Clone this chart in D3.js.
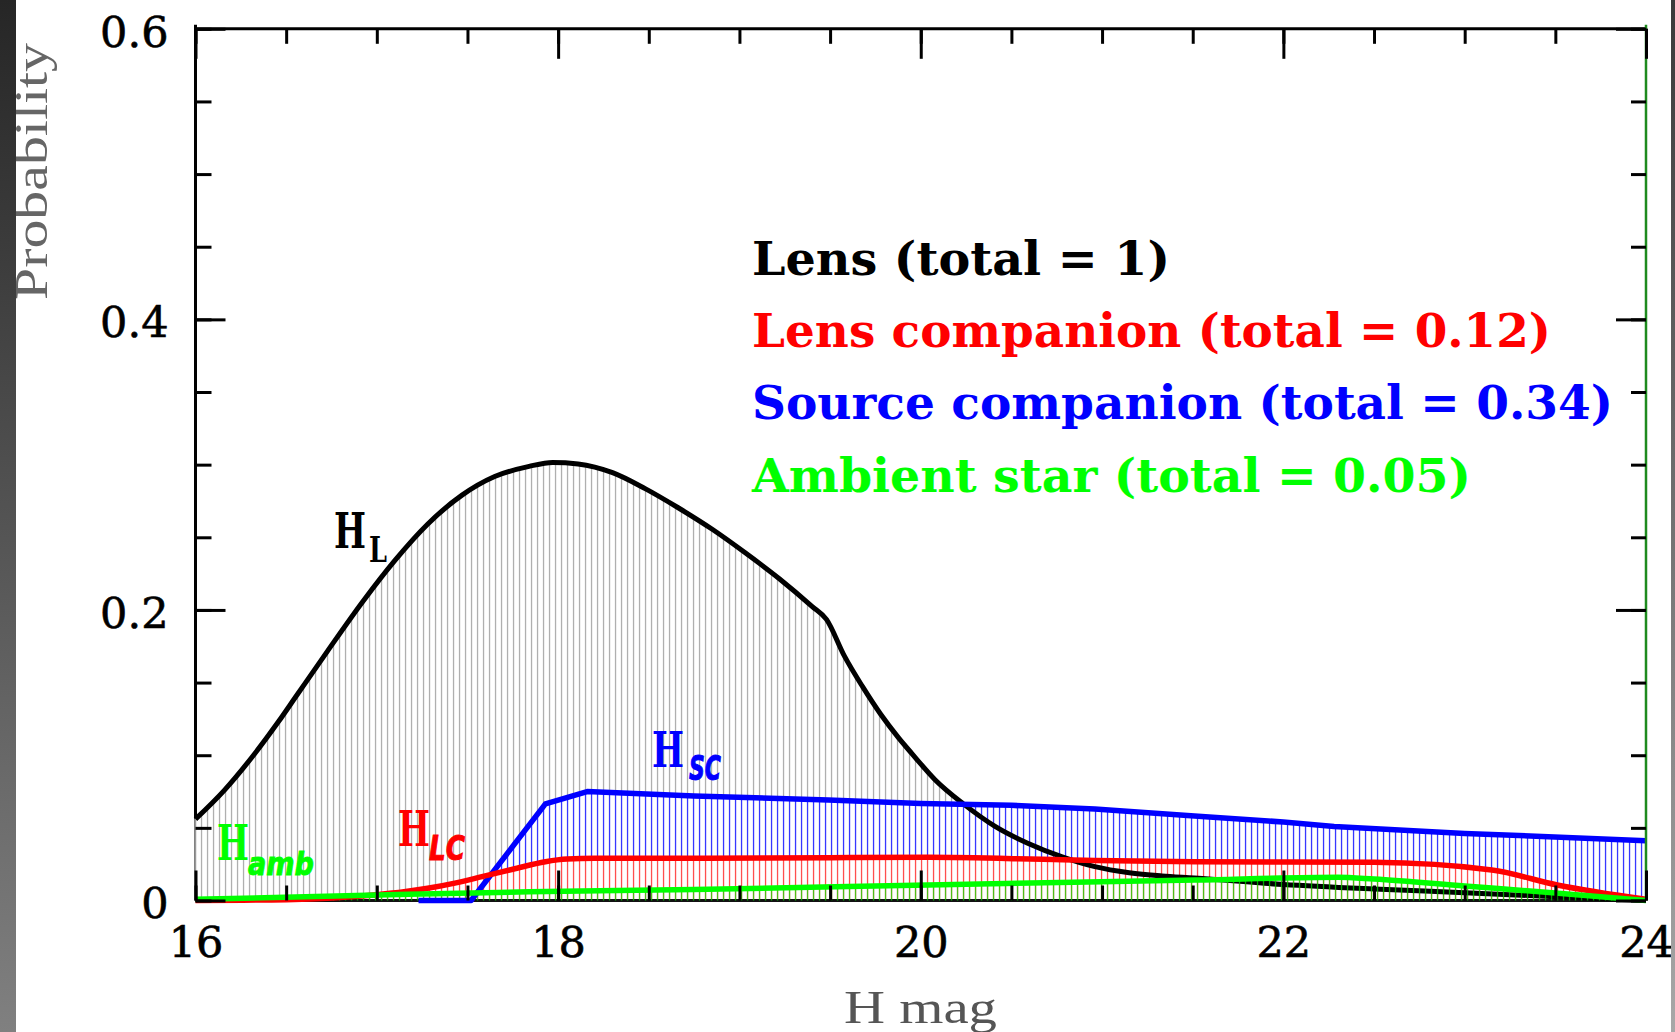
<!DOCTYPE html>
<html><head><meta charset="utf-8">
<script src="https://cdn.jsdelivr.net/npm/d3@7"></script>
<style>html,body{margin:0;padding:0;background:#fff;overflow:hidden}</style>
</head><body>
<svg id="c" width="1675" height="1032"></svg>
<script>
// ---------- data ----------
const lensMag  = [16.0,16.16,16.32,16.46,16.55,16.73,16.92,17.10,17.28,17.47,17.65,17.84,17.97,18.11,18.30,18.48,18.66,18.85,19.03,19.22,19.40,19.48,19.58,19.68,19.78,19.88,19.95,20.08,20.23,20.41,20.59,20.78,20.96,21.15,21.33,21.51,22.0,22.5,23.0,23.5,24.0];
const lensProb = [0.056,0.076,0.100,0.1235,0.1397,0.172,0.2053,0.2341,0.259,0.279,0.2918,0.2988,0.3015,0.3005,0.2945,0.2835,0.2705,0.2555,0.2395,0.2215,0.2025,0.1935,0.168,0.147,0.128,0.1116,0.1013,0.083,0.067,0.051,0.0394,0.030,0.0233,0.0191,0.0169,0.0155,0.0110,0.0079,0.0054,0.0026,0.0];

const lensCompMag  = [16.0,16.5,17.0,17.15,17.28,17.43,17.58,17.75,17.93,18.05,18.2,18.75,19.5,20.04,20.78,21.51,22.5,23.15,23.51,24.0];
const lensCompProb = [0.0,0.0006,0.004,0.006,0.0084,0.012,0.0164,0.0215,0.0267,0.0285,0.029,0.029,0.0295,0.0297,0.028,0.0267,0.0263,0.021,0.0107,0.0008];

const srcCompMag  = [17.23,17.52,17.93,18.16,18.75,19.49,20.0,20.5,20.96,21.51,22.0,22.28,23.0,24.0];
const srcCompProb = [0.0,0.0,0.0665,0.0750,0.0719,0.0692,0.0668,0.0655,0.0630,0.0582,0.0540,0.0510,0.0462,0.0412];

const ambMag  = [16.0,17.0,17.84,18.75,20.04,21.51,22.3,22.5,23.0,23.5,24.0];
const ambProb = [0.0008,0.0038,0.006,0.0075,0.0107,0.0141,0.0160,0.0148,0.0100,0.0052,0.0];

const xTickLabels = ["16","18","20","22","24"];
const xTickValues = [16,18,20,22,24];
const yTickLabels = ["0","0.2","0.4","0.6"];
const yTickValues = [0,0.2,0.4,0.6];

const legendLabels = ["Lens (total = 1)","Lens companion (total = 0.12)","Source companion (total = 0.34)","Ambient star (total = 0.05)"];
const legendColors = ["#000000","#ff0000","#0000ff","#00ff00"];

// ---------- layout ----------
const svg = d3.select("#c");
const W = 1675, H = 1032;
const L = 195.5, R = 1646, T = 28.8, B = 900.5;
const x = d3.scaleLinear().domain([16,24]).range([L,R]);
const y = d3.scaleLinear().domain([0,0.6]).range([B,T]);

const defs = svg.append("defs");
const lg = defs.append("linearGradient").attr("id","bandL").attr("x1",0).attr("y1",0).attr("x2",0).attr("y2",1);
lg.append("stop").attr("offset","0").attr("stop-color","#262626");
lg.append("stop").attr("offset","1").attr("stop-color","#808080");
const rg = defs.append("linearGradient").attr("id","bandR").attr("x1",0).attr("y1",0).attr("x2",0).attr("y2",1);
rg.append("stop").attr("offset","0").attr("stop-color","#3a3a3a");
rg.append("stop").attr("offset","1").attr("stop-color","#a8a8a8");

function hatch(id, color, op){
  const p = defs.append("pattern").attr("id",id).attr("patternUnits","userSpaceOnUse")
    .attr("x",L-0.6).attr("y",0).attr("width",6).attr("height",20);
  p.append("rect").attr("x",0).attr("y",0).attr("width",1.2).attr("height",20)
    .attr("fill",color).attr("fill-opacity",op);
}
hatch("hGray","#a8a8a8",1);
hatch("hBlue","#0000ff",0.85);
hatch("hRed","#ff0000",0.75);
hatch("hGreen","#00ee00",0.75);

svg.append("rect").attr("width",W).attr("height",H).attr("fill","#fff");

const zip = (a,b)=>a.map((v,i)=>[v,b[i]]);
const lensData = zip(lensMag,lensProb);
const lcData = zip(lensCompMag,lensCompProb);
const scData = zip(srcCompMag,srcCompProb);
const ambData = zip(ambMag,ambProb);

const areaSmooth = d3.area().x(d=>x(d[0])).y0(y(0)).y1(d=>y(d[1])).curve(d3.curveMonotoneX);
const areaLinear = d3.area().x(d=>x(d[0])).y0(y(0)).y1(d=>y(d[1])).curve(d3.curveLinear);
const lineSmooth = d3.line().x(d=>x(d[0])).y(d=>y(d[1])).curve(d3.curveMonotoneX);
const lineLinear = d3.line().x(d=>x(d[0])).y(d=>y(d[1])).curve(d3.curveLinear);

// frame: left, top
svg.append("line").attr("x1",L).attr("x2",L).attr("y1",T-4).attr("y2",B).attr("stroke","#000").attr("stroke-width",3);
svg.append("line").attr("x1",L).attr("x2",R).attr("y1",T).attr("y2",T).attr("stroke","#000").attr("stroke-width",3);

// areas
svg.append("path").attr("d",areaSmooth(lensData)).attr("fill","#fff").attr("stroke","#fff").attr("stroke-width",2);
svg.append("path").attr("d",areaSmooth(lensData)).attr("fill","url(#hGray)");
svg.append("path").attr("d",areaLinear(scData)).attr("fill","#fff");
svg.append("path").attr("d",areaLinear(scData)).attr("fill","url(#hBlue)");
svg.append("path").attr("d",areaSmooth(lcData)).attr("fill","#fff");
svg.append("path").attr("d",areaSmooth(lcData)).attr("fill","url(#hRed)");

// bottom axis line
svg.append("line").attr("x1",L).attr("x2",R).attr("y1",B).attr("y2",B).attr("stroke","#111").attr("stroke-width",3);
// thin grey edge where the hatched lens area meets the left frame
svg.append("line").attr("x1",L).attr("x2",L).attr("y1",y(lensProb[0])).attr("y2",B).attr("stroke","#999").attr("stroke-width",1.2);

// black curve
svg.append("path").attr("d",lineSmooth(lensData)).attr("fill","none").attr("stroke","#000").attr("stroke-width",5).attr("stroke-linejoin","round");

// green hatch (no white fill, so it breaks the black line/base)
svg.append("path").attr("d",areaSmooth(ambData)).attr("fill","url(#hGreen)");

// colored curves
svg.append("path").attr("d",lineLinear(scData)).attr("fill","none").attr("stroke","#0000ff").attr("stroke-width",5.5).attr("stroke-linejoin","round");
svg.append("path").attr("d",lineSmooth(lcData)).attr("fill","none").attr("stroke","#ff0000").attr("stroke-width",5.5).attr("stroke-linejoin","round");
svg.append("path").attr("d",lineSmooth(ambData)).attr("fill","none").attr("stroke","#00ff00").attr("stroke-width",5.5).attr("stroke-linejoin","round");

// right frame (green)
svg.append("line").attr("x1",R).attr("x2",R).attr("y1",T-4).attr("y2",B).attr("stroke","#1e8a1e").attr("stroke-width",2.5);

// ---------- axes ----------
function styleAxis(g){
  g.select(".domain").remove();
  g.selectAll(".tick line").attr("stroke","#000").attr("stroke-width",3);
}
const tickFont = "'DejaVu Serif', serif";
svg.append("g").attr("transform",`translate(0,${B})`)
  .call(d3.axisBottom(x).tickValues(x.ticks(16)).tickSize(-15).tickFormat("")).call(styleAxis);
svg.append("g").attr("transform",`translate(0,${B})`)
  .call(d3.axisBottom(x).tickValues(xTickValues).tickSize(-30).tickPadding(26).tickFormat((d,i)=>xTickLabels[i]))
  .call(styleAxis)
  .call(g=>g.selectAll("text").attr("font-family",tickFont).attr("font-size",43).attr("fill","#000").attr("stroke","#000").attr("stroke-width",0.6));
svg.append("g").attr("transform",`translate(0,${T})`)
  .call(d3.axisTop(x).tickValues(x.ticks(16)).tickSize(-15).tickFormat("")).call(styleAxis);
svg.append("g").attr("transform",`translate(0,${T})`)
  .call(d3.axisTop(x).tickValues(xTickValues).tickSize(-30).tickFormat("")).call(styleAxis);
svg.append("g").attr("transform",`translate(${L},0)`)
  .call(d3.axisLeft(y).tickValues(y.ticks(12)).tickSize(-16).tickFormat("")).call(styleAxis);
svg.append("g").attr("transform",`translate(${L},0)`)
  .call(d3.axisLeft(y).tickValues(yTickValues).tickSize(-30).tickPadding(27).tickFormat((d,i)=>yTickLabels[i]))
  .call(styleAxis)
  .call(g=>g.selectAll("text").attr("font-family",tickFont).attr("font-size",43).attr("fill","#000").attr("stroke","#000").attr("stroke-width",0.6).attr("dy","0.4em"));
svg.append("g").attr("transform",`translate(${R},0)`)
  .call(d3.axisRight(y).tickValues(y.ticks(12)).tickSize(-15).tickFormat("")).call(styleAxis);
svg.append("g").attr("transform",`translate(${R},0)`)
  .call(d3.axisRight(y).tickValues(yTickValues).tickSize(-30).tickFormat("")).call(styleAxis);

// axis titles
svg.append("text").attr("x",844).attr("y",1023).attr("font-family","'Liberation Serif', serif")
  .attr("font-size",46).attr("fill","#555").attr("textLength",153).attr("lengthAdjust","spacingAndGlyphs").text("H mag");
svg.append("text").attr("transform","translate(47,300) rotate(-90)").attr("font-family","'Liberation Serif', serif")
  .attr("font-size",46).attr("fill","#666").attr("textLength",257).attr("lengthAdjust","spacingAndGlyphs").text("Probability");

// legend
const serifBold = "'DejaVu Serif', serif";
const legendWidths = [418,799,861,719];
const legendBase = [275,347,419,492];
legendLabels.forEach((t,i)=>{
  svg.append("text").attr("x",752).attr("y",legendBase[i])
    .attr("font-family",serifBold).attr("font-weight","bold").attr("font-size",47)
    .attr("fill",legendColors[i])
    .attr("textLength",legendWidths[i]).attr("lengthAdjust","spacingAndGlyphs").text(t);
});

// curve labels
function hLabel(hx, hy, col, sub, sx, sy, subFont, subSize, subLen, subItalic){
  svg.append("text").attr("x",hx).attr("y",hy).attr("font-family",serifBold)
    .attr("font-weight","bold").attr("font-size",48).attr("fill",col)
    .attr("textLength",32).attr("lengthAdjust","spacingAndGlyphs").text("H");
  svg.append("text").attr("x",sx).attr("y",sy).attr("font-family",subFont)
    .attr("font-weight","bold").attr("font-style",subItalic?"italic":"normal").attr("font-size",subSize)
    .attr("fill",col).attr("stroke",col).attr("stroke-width",subItalic?1:0)
    .attr("textLength",subLen).attr("lengthAdjust","spacingAndGlyphs").text(sub);
}
hLabel(334,548,"#000","L",369,562,serifBold,36,18,false);
hLabel(652,767,"#0000ff","SC",689,780,"'DejaVu Sans', sans-serif",34,32,true);
hLabel(398,846,"#ff0000","LC",429,860,"'DejaVu Sans', sans-serif",34,36,true);
hLabel(217,860,"#00ff00","amb",248,875,"'DejaVu Sans', sans-serif",32,66,true);

// side bands
svg.append("rect").attr("x",0).attr("y",0).attr("width",16).attr("height",H).attr("fill","url(#bandL)");
svg.append("rect").attr("x",1671).attr("y",0).attr("width",4).attr("height",H).attr("fill","url(#bandR)");
</script>
</body></html>
